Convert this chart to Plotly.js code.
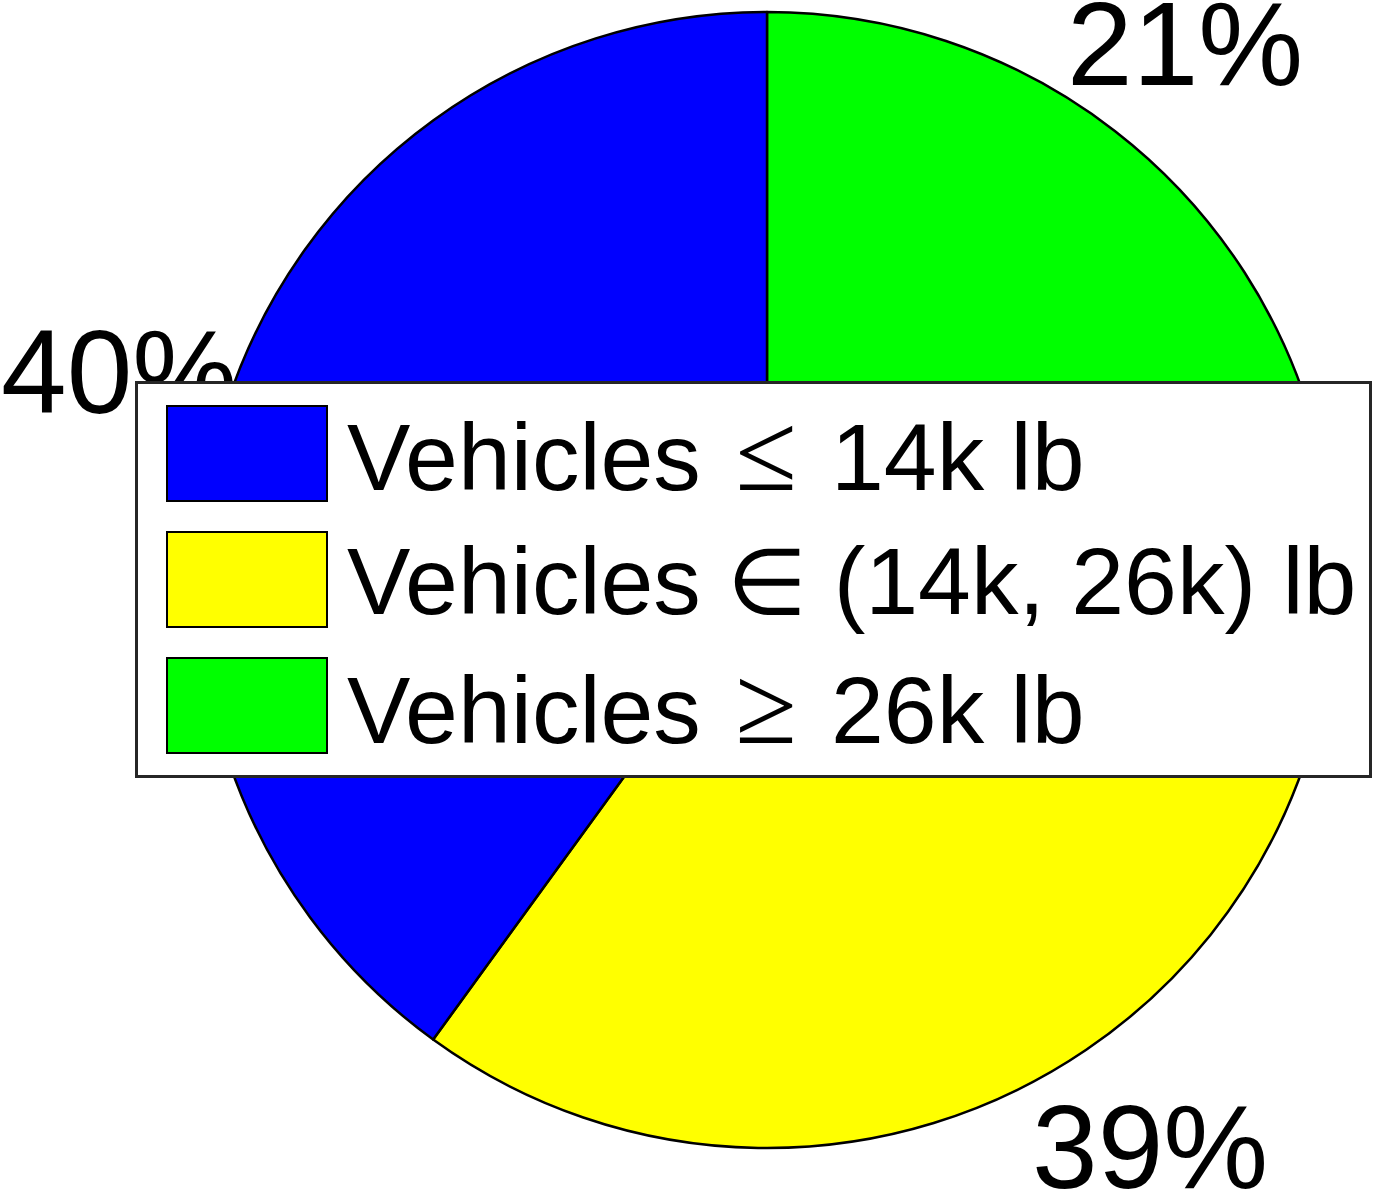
<!DOCTYPE html>
<html>
<head>
<meta charset="utf-8">
<script src="https://cdn.plot.ly/plotly-3.0.1.min.js"></script>
<style>html,body{margin:0;padding:0;background:#fff;}</style>
</head>
<body>
<div id="chart" style="width:1374px;height:1197px;"></div>
<script>
// ---- data ----
const labels = ["Vehicles \u2264 14k lb", "Vehicles \u2208 (14k, 26k) lb", "Vehicles \u2265 26k lb"];
const values = [40, 39, 21];
const colors = ["#0000FF", "#FFFF00", "#00FF00"];

// ---- geometry (layout) ----
const W = 1374, H = 1197;
const cx = 767, cy = 580, R = 568;
const FONT = "Liberation Sans, Arial, Helvetica, sans-serif";

// Slices run counterclockwise from 12 o'clock (as in the reference);
// drawn as a clockwise pie fed in reverse order.
const trace = {
  type: "pie",
  values: values.slice().reverse(),
  labels: labels.slice().reverse(),
  sort: false,
  direction: "clockwise",
  rotation: 0,
  textinfo: "none",
  hoverinfo: "none",
  showlegend: false,
  marker: {colors: colors.slice().reverse(), line: {color: "#000000", width: 2.5}},
  domain: {x: [(cx - R) / W, (cx + R) / W], y: [1 - (cy + R) / H, 1 - (cy - R) / H]}
};

const annotations = [];
// percentage labels placed at 1.2 R on the slice mid-angle
const total = values.reduce((a, b) => a + b, 0);
let start = 90;
values.forEach((v) => {
  const span = v / total * 360;
  const mid = (start + span / 2) * Math.PI / 180;
  start += span;
  annotations.push({
    xref: "paper", yref: "paper",
    x: (cx + 1.2 * R * Math.cos(mid)) / W,
    y: 1 - (cy - 1.2 * R * Math.sin(mid)) / H,
    xanchor: "center", yanchor: "middle", yshift: -3,
    text: Math.round(v / total * 100) + "%",
    showarrow: false,
    font: {family: FONT, size: 118, color: "#000"}
  });
});

// legend box
const LB = {x0: 135, y0: 381, x1: 1372, y1: 778, bw: 3};
annotations.push({
  xref: "paper", yref: "paper",
  x: LB.x0 / W, y: 1 - LB.y0 / H, xanchor: "left", yanchor: "top",
  text: " ", showarrow: false,
  width: (LB.x1 - LB.x0) - 2 * LB.bw, height: (LB.y1 - LB.y0) - 2 * LB.bw,
  bgcolor: "#ffffff", bordercolor: "#262626", borderwidth: LB.bw, borderpad: 0,
  font: {size: 10}
});
const rowTop = [405, 531, 657], swH = 97, swX0 = 166, swX1 = 328, textX = 345;
const rowShift = [2, -2, 2];
function displayLabel(s) {
  return s
    .replace(/ ([\u2264\u2265]) /g, " \u200A<span style=\"font-family:DejaVu Sans;font-weight:200;font-size:112px\">$1</span>\u200A ")
    .replace(/ (\u2208) /g, " <span style=\"font-family:DejaVu Sans;font-weight:200;font-size:92px\">$1</span> ");
}
labels.forEach((lab, i) => {
  annotations.push({
    xref: "paper", yref: "paper",
    x: swX0 / W, y: 1 - rowTop[i] / H, xanchor: "left", yanchor: "top",
    text: " ", showarrow: false,
    width: (swX1 - swX0) - 4, height: swH - 4,
    bgcolor: colors[i], bordercolor: "#000000", borderwidth: 2, borderpad: 0,
    font: {size: 10}
  });
  annotations.push({
    xref: "paper", yref: "paper",
    x: textX / W, y: 1 - (rowTop[i] + swH / 2) / H, xanchor: "left", yanchor: "middle",
    yshift: rowShift[i],
    text: displayLabel(lab), showarrow: false,
    font: {family: FONT, size: 95, color: "#000"}
  });
});

const layout = {
  width: W, height: H,
  margin: {l: 0, r: 0, t: 0, b: 0},
  paper_bgcolor: "#ffffff",
  showlegend: false,
  annotations: annotations
};

Plotly.newPlot("chart", [trace], layout, {displayModeBar: false, staticPlot: true});
</script>
</body>
</html>
